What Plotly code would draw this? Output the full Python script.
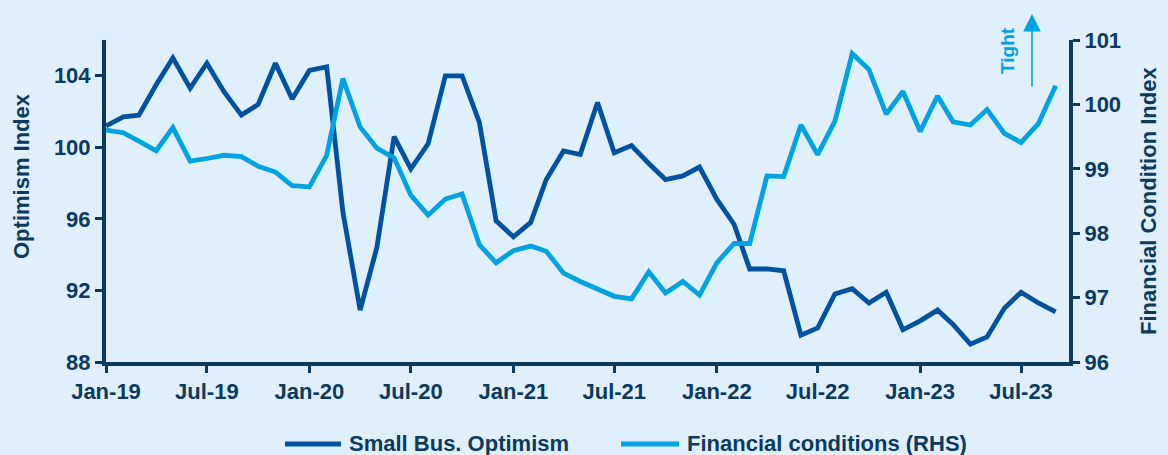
import pandas as pd
import plotly.graph_objects as go

# ---- data ----
months = pd.date_range("2019-01-01", periods=57, freq="MS")
small_bus_optimism = [
    101.2, 101.7, 101.8, 103.5, 105.0, 103.3, 104.7, 103.1, 101.8, 102.4, 104.7, 102.7,
    104.3, 104.5, 96.4, 90.9, 94.4, 100.6, 98.8, 100.2, 104.0, 104.0, 101.4, 95.9,
    95.0, 95.8, 98.2, 99.8, 99.6, 102.5, 99.7, 100.1, 99.1, 98.2, 98.4, 98.9,
    97.1, 95.7, 93.2, 93.2, 93.1, 89.5, 89.9, 91.8, 92.1, 91.3, 91.9, 89.8,
    90.3, 90.9, 90.1, 89.0, 89.4, 91.0, 91.9, 91.3, 90.8,
]
financial_conditions = [
    99.60, 99.56, 99.43, 99.28, 99.64, 99.12, 99.16, 99.21, 99.19, 99.04, 98.95, 98.74,
    98.72, 99.21, 100.40, 99.65, 99.32, 99.17, 98.59, 98.28, 98.53, 98.61, 97.82, 97.54,
    97.73, 97.80, 97.72, 97.38, 97.25, 97.14, 97.02, 96.98, 97.40, 97.07, 97.25, 97.04,
    97.54, 97.84, 97.84, 98.89, 98.88, 99.68, 99.22, 99.74, 100.79, 100.54, 99.85, 100.20,
    99.58, 100.13, 99.73, 99.68, 99.92, 99.55, 99.41, 99.70, 100.29,
]
series_names = ["Small Bus. Optimism", "Financial conditions (RHS)"]
left_ticks = [88, 92, 96, 100, 104]
right_ticks = [96, 97, 98, 99, 100, 101]

# ---- styles ----
DARK = "#00529E"
LIGHT = "#00A2E1"
AXIS = "#0B3A5E"
BG = "#DFF0FC"
FONT = "Arial, Liberation Sans, sans-serif"
W, H = 1168, 455
L, R, T, B = 106, 99, 40, 93
pw, ph = W - L - R, H - T - B


def px_x(x):
    return (x - L) / pw


def px_y(y):
    return (H - B - y) / ph


fig = go.Figure()
fig.add_trace(go.Scatter(x=months, y=small_bus_optimism, name=series_names[0], mode="lines",
                         line=dict(color=DARK, width=4.8), yaxis="y", showlegend=False))
fig.add_trace(go.Scatter(x=months, y=financial_conditions, name=series_names[1], mode="lines",
                         line=dict(color=LIGHT, width=4.8), yaxis="y2", showlegend=False))

tickfont = dict(family=FONT, size=22, color=AXIS, weight="bold")
fig.update_layout(
    width=W, height=H,
    margin=dict(l=L, r=R, t=T, b=B),
    paper_bgcolor=BG, plot_bgcolor=BG,
    xaxis=dict(
        type="date", range=["2019-01-01", "2023-09-25"],
        tick0="2019-01-01", dtick="M6", tickformat="%b-%y",
        showgrid=False, zeroline=False,
        showline=True, linecolor=AXIS, linewidth=4,
        ticks="outside", ticklen=7, tickwidth=3, tickcolor=AXIS,
        tickfont=tickfont,
    ),
    yaxis=dict(
        range=[88, 106], tickvals=left_ticks,
        showgrid=False, zeroline=False,
        showline=True, linecolor=AXIS, linewidth=4,
        ticks="outside", ticklen=7, tickwidth=3, tickcolor=AXIS,
        tickfont=tickfont,
    ),
    yaxis2=dict(
        range=[96, 101], tickvals=right_ticks, overlaying="y", side="right",
        showgrid=False, zeroline=False,
        showline=True, linecolor=AXIS, linewidth=4,
        ticks="outside", ticklen=7, tickwidth=3, tickcolor=AXIS,
        tickfont=tickfont,
    ),
)

ann_font = dict(family=FONT, size=22, color=AXIS, weight="bold")
annotations = [
    dict(text="Optimism Index", x=px_x(21), y=px_y(176), xref="paper", yref="paper",
         textangle=-90, showarrow=False, font=ann_font, xanchor="center", yanchor="middle"),
    dict(text="Financial Condition Index", x=px_x(1148), y=px_y(201), xref="paper", yref="paper",
         textangle=-90, showarrow=False, font=ann_font, xanchor="center", yanchor="middle"),
    dict(text="Tight", x=px_x(1007), y=px_y(51), xref="paper", yref="paper",
         textangle=-90, showarrow=False, xanchor="center", yanchor="middle",
         font=dict(family=FONT, size=19, color=LIGHT, weight="bold")),
    dict(text="", x=px_x(1032), y=px_y(14), xref="paper", yref="paper",
         ax=0, ay=74, showarrow=True, arrowhead=2, arrowsize=2.2, arrowwidth=1.6,
         arrowcolor=LIGHT),
    dict(text=series_names[0], x=px_x(347), y=px_y(443), xref="paper", yref="paper",
         showarrow=False, xanchor="left", yanchor="middle",
         font=dict(family=FONT, size=22, color=AXIS, weight="bold")),
    dict(text=series_names[1], x=px_x(685), y=px_y(443), xref="paper", yref="paper",
         showarrow=False, xanchor="left", yanchor="middle",
         font=dict(family=FONT, size=22, color=AXIS, weight="bold")),
]
fig.update_layout(annotations=annotations)

shapes = [
    dict(type="line", xref="paper", yref="paper", x0=px_x(285), x1=px_x(341),
         y0=px_y(444), y1=px_y(444), line=dict(color=DARK, width=5)),
    dict(type="line", xref="paper", yref="paper", x0=px_x(621), x1=px_x(679),
         y0=px_y(444), y1=px_y(444), line=dict(color=LIGHT, width=5)),
]
fig.update_layout(shapes=shapes)

fig.write_html(
    "out.html",
    config={"displayModeBar": False},
    post_script="document.body.style.margin='0';document.body.style.overflow='hidden';"
                "document.documentElement.style.overflow='hidden';",
)
